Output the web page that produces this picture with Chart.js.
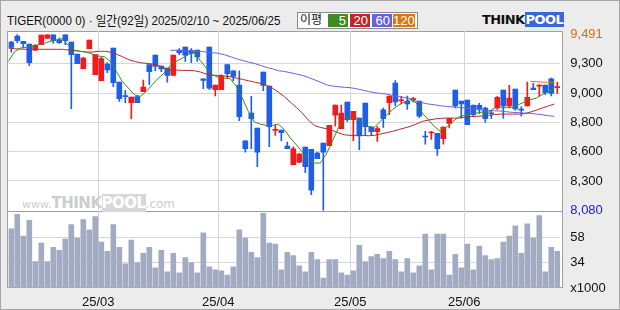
<!DOCTYPE html>
<html>
<head>
<meta charset="utf-8">
<script src="https://cdn.jsdelivr.net/npm/chart.js@4.4.1/dist/chart.umd.min.js"></script>
<style>
html, body { margin: 0; padding: 0; }
body { width: 620px; height: 310px; background: #ececec; position: relative; overflow: hidden;
       font-family: "Liberation Sans", "Noto Sans CJK KR", sans-serif; }
#outer { position: absolute; left: 0; top: 0; width: 620px; height: 310px; box-sizing: border-box; border: 1px solid #a6a6a6; }
#title { position: absolute; left: 7px; top: 13px; font-size: 13px; line-height: 16px; color: #111; white-space: nowrap;
         transform: scaleX(0.89); transform-origin: 0 0; }
#legend { position: absolute; left: 297px; top: 12px; width: 121px; height: 17px; box-sizing: border-box;
          border: 1px solid #8a8a8a; background: #fff; font-size: 12px; line-height: 13px; }
#legend span { position: absolute; top: 1px; height: 13px; color: #fff; text-align: right; padding-right: 2px; box-sizing: border-box; font-size: 13px; }
#logo { position: absolute; left: 482px; top: 12px; font-weight: bold; font-size: 13px; line-height: 16px; letter-spacing: -0.6px;
        font-family: "DejaVu Sans", sans-serif; color: #111; }
#logo .pool { background: #3a66dc; color: #fff; padding: 0 1px; }
#plotFrame { position: absolute; left: 7px; top: 31px; width: 556px; height: 257px; box-sizing: border-box; border: 1px solid #a0a0a0; background: #fff; }
#sep { position: absolute; left: 7px; top: 211px; width: 556px; height: 1px; background: #9c9c9c; }
#watermark { position: absolute; left: 22px; top: 195px; color: #cdcdcd; white-space: nowrap; font-family: "DejaVu Sans", sans-serif; line-height: 16px; }
#watermark .big { font-weight: bold; font-size: 15px; letter-spacing: -0.5px; }
#watermark .poolw { background: #d8d8d8; color: #fff; }
#chartBox { position: absolute; left: 0; top: 0; width: 620px; height: 310px; }
</style>
</head>
<body>
<div id="outer"></div>
<div id="title">TIGER(0000 0) · 일간(92일) 2025/02/10 ~ 2025/06/25</div>
<div id="legend">
  <span style="left:2px;color:#111;font-size:12px;">이평</span>
  <span style="left:30px;width:20px;background:#3d8c1f;">5</span>
  <span style="left:52px;width:20px;background:#c4262a;">20</span>
  <span style="left:74px;width:20px;background:#6a62da;">60</span>
  <span style="left:95px;width:22px;background:#dd760e;">120</span>
</div>
<div id="logo">THINK<span class="pool">POOL</span></div>
<div id="plotFrame"></div>
<div id="sep"></div>
<div id="watermark"><span style="font-size:11px">www.</span><span class="big">THINK</span><span class="big poolw">POOL</span><span style="font-size:12px">.com</span></div>
<div id="chartBox"><canvas id="candlePlot" width="620" height="310"></canvas></div>

<script>
// trading days, 2025/02/10 ~ 2025/06/25
var tradeDates = [
    '25/02/10','25/02/11','25/02/12','25/02/13','25/02/14','25/02/17','25/02/18','25/02/19','25/02/20','25/02/21',
    '25/02/24','25/02/25','25/02/26','25/02/27','25/02/28',
    '25/03/04','25/03/05','25/03/06','25/03/07','25/03/10','25/03/11','25/03/12','25/03/13','25/03/14','25/03/17',
    '25/03/18','25/03/19','25/03/20','25/03/21','25/03/24','25/03/25','25/03/26','25/03/27','25/03/28','25/03/31',
    '25/04/01','25/04/02','25/04/03','25/04/04','25/04/07','25/04/08','25/04/09','25/04/10','25/04/11','25/04/14',
    '25/04/15','25/04/16','25/04/17','25/04/18','25/04/21','25/04/22','25/04/23','25/04/24','25/04/25','25/04/28',
    '25/04/29','25/04/30',
    '25/05/02','25/05/07','25/05/08','25/05/09','25/05/12','25/05/13','25/05/14','25/05/15','25/05/16','25/05/19',
    '25/05/20','25/05/21','25/05/22','25/05/23','25/05/26','25/05/27','25/05/28','25/05/29','25/05/30',
    '25/06/02','25/06/04','25/06/05','25/06/09','25/06/10','25/06/11','25/06/12','25/06/13','25/06/16','25/06/17',
    '25/06/18','25/06/19','25/06/20','25/06/23','25/06/24','25/06/25'
];

var openPrices = [
    9431, 9479, 9436, 9415, 9366, 9409, 9460, 9489, 9447, 9489,
    9431, 9334, 9216, 9377, 9168, 9120, 9254, 9382, 9109, 9000,
    8943, 8992, 9032, 9249, 9326, 9238, 9222, 9163, 9366, 9390,
    9361, 9366, 9136, 9390, 9048, 9048, 9249, 9200, 9085, 8638,
    8860, 8740, 9190, 9077, 8721, 8724, 8595, 8445, 8467, 8587,
    8569, 8539, 8619, 8598, 8844, 8735, 8949, 8807, 8820, 8941,
    8748, 8710, 8887, 8943, 9101, 8959, 8954, 8967, 8957, 8673,
    8700, 8697, 8654, 8777, 9045, 8957, 8965, 8922, 8922, 8901,
    8860, 8901, 9045, 8917, 9053, 8890, 8917, 9061, 9077, 9085,
    9136, 9064
];
var highPrices = [
    9436, 9491, 9436, 9415, 9409, 9487, 9489, 9489, 9463, 9489,
    9431, 9334, 9307, 9447, 9329, 9307, 9265, 9382, 9109, 9040,
    8989, 8997, 9125, 9249, 9326, 9238, 9222, 9326, 9377, 9390,
    9377, 9366, 9136, 9390, 9085, 9168, 9249, 9200, 9200, 8638,
    8994, 8740, 9190, 9077, 8761, 8724, 8628, 8590, 8536, 8587,
    8569, 8547, 8619, 8761, 8925, 8925, 8949, 8874, 8820, 8941,
    8748, 8751, 8901, 8997, 9120, 8994, 8997, 8986, 8957, 8713,
    8713, 8697, 8748, 8818, 9045, 8957, 8965, 8927, 8938, 8906,
    8874, 8994, 9045, 9083, 9053, 8911, 9109, 9098, 9088, 9085,
    9141, 9109
];
var lowPrices = [
    9350, 9425, 9388, 9241, 9361, 9409, 9460, 9420, 9420, 9409,
    8895, 9257, 9216, 9377, 9168, 9120, 9184, 9072, 8954, 8943,
    8815, 8943, 9032, 9088, 9200, 9192, 9109, 9163, 9329, 9275,
    9265, 9275, 9056, 9050, 8997, 9048, 9141, 9120, 8799, 8547,
    8574, 8429, 9040, 8590, 8681, 8638, 8574, 8445, 8462, 8381,
    8205, 8494, 8080, 8598, 8756, 8735, 8793, 8638, 8566, 8681,
    8681, 8633, 8745, 8847, 8917, 8933, 8890, 8949, 8826, 8611,
    8649, 8520, 8611, 8740, 8901, 8820, 8767, 8836, 8858, 8788,
    8815, 8890, 8820, 8901, 8884, 8836, 8917, 9048, 8997, 9008,
    8997, 9018
];
var closePrices = [
    9388, 9441, 9417, 9265, 9404, 9487, 9489, 9441, 9425, 9441,
    9329, 9257, 9302, 9447, 9329, 9297, 9206, 9104, 8976, 8992,
    8989, 8943, 9069, 9192, 9235, 9214, 9163, 9326, 9345, 9324,
    9340, 9310, 9123, 9061, 9085, 9158, 9176, 9155, 8831, 8574,
    8815, 8547, 9083, 8751, 8727, 8702, 8574, 8574, 8531, 8429,
    8242, 8494, 8547, 8761, 8925, 8860, 8807, 8874, 8676, 8751,
    8710, 8735, 8815, 8997, 8949, 8967, 8933, 8976, 8836, 8668,
    8708, 8574, 8748, 8818, 8917, 8933, 8767, 8847, 8893, 8815,
    8855, 8986, 8917, 8981, 8893, 8884, 8986, 9048, 9083, 9024,
    9018, 9069
];

// volume, x1000
var volumes = [
    66.1, 79.7, 59.3, 74.2, 35.0, 52.5, 35.0, 48.6, 45.7, 56.4,
    70.0, 57.3, 74.8, 65.1, 77.7, 53.4, 44.7, 70.0, 48.6, 33.0,
    55.4, 34.0, 42.8, 48.6, 29.2, 45.7, 25.3, 42.8, 24.3, 38.9,
    34.0, 24.3, 62.2, 30.1, 27.2, 26.2, 22.3, 30.1, 65.1, 57.3,
    43.7, 38.9, 80.7, 52.5, 51.5, 27.2, 43.7, 40.8, 31.1, 25.3,
    43.7, 36.9, 19.4, 36.9, 36.9, 24.3, 22.3, 26.2, 50.5, 35.0,
    39.8, 41.8, 37.9, 44.7, 36.9, 25.3, 37.9, 24.3, 31.1, 61.2,
    27.2, 61.2, 61.2, 22.3, 41.8, 29.2, 51.5, 27.2, 49.6, 40.8,
    36.9, 37.9, 53.4, 59.3, 69.0, 42.8, 70.9, 57.3, 78.7, 25.3,
    48.6, 44.7
];

// moving averages as they appear on the chart
var ma5 = [
    9275, 9350, 9382, 9388, 9393, 9409, 9420, 9436, 9447, 9457,
    9404, 9366, 9356, 9350, 9334, 9318, 9313, 9275, 9195, 9115,
    9061, 9008, 8994, 9034, 9088, 9141, 9182, 9243, 9275, 9302,
    9329, 9350, 9281, 9222, 9168, 9147, 9141, 9136, 9075, 8981,
    8874, 8788, 8772, 8761, 8761, 8772, 8727, 8660, 8606, 8547,
    8486, 8459, 8459, 8531, 8633, 8740, 8807, 8826, 8826, 8780,
    8753, 8745, 8793, 8842, 8887, 8922, 8949, 8967, 8941, 8860,
    8807, 8753, 8713, 8745, 8788, 8826, 8842, 8852, 8860, 8868,
    8868, 8901, 8906, 8906, 8906, 8927, 8949, 8967, 8981, 9008,
    9034, 9050
];
var ma20 = [
    9382, 9377, 9374, 9372, 9372, 9372, 9372, 9372, 9372, 9372,
    9366, 9361, 9356, 9350, 9350, 9356, 9356, 9350, 9334, 9313,
    9291, 9275, 9265, 9259, 9254, 9243, 9222, 9206, 9206, 9203,
    9203, 9200, 9190, 9174, 9163, 9163, 9158, 9152, 9141, 9131,
    9120, 9109, 9099, 9083, 9061, 9029, 8992, 8949, 8906, 8860,
    8804, 8761, 8745, 8735, 8721, 8702, 8686, 8681, 8681, 8681,
    8678, 8681, 8692, 8702, 8713, 8727, 8740, 8753, 8772, 8793,
    8804, 8812, 8818, 8820, 8820, 8820, 8826, 8831, 8834, 8836,
    8842, 8847, 8852, 8852, 8852, 8852, 8855, 8868, 8884, 8901,
    8917, 8933
];
var ma60 = [
    null, null, null, null, null, null, null, null, null, null,
    null, null, null, null, null, null, null, null, null, null,
    null, null, null, null, null, null, null, 9364, 9364, 9361,
    9361, 9358, 9356, 9350, 9345, 9340, 9329, 9313, 9297, 9283,
    9270, 9259, 9243, 9227, 9216, 9200, 9195, 9184, 9174, 9163,
    9147, 9128, 9109, 9088, 9077, 9072, 9067, 9064, 9056, 9045,
    9034, 9024, 9018, 9013, 9002, 8992, 8986, 8976, 8954, 8943,
    8933, 8927, 8919, 8914, 8909, 8906, 8901, 8895, 8890, 8884,
    8882, 8879, 8876, 8871, 8866, 8863, 8860, 8858, 8852, 8847,
    8839, 8834
];
var ma120 = [
    null, null, null, null, null, null, null, null, null, null,
    null, null, null, null, null, null, null, null, null, null,
    null, null, null, null, null, null, null, null, null, null,
    null, null, null, null, null, null, null, null, null, null,
    null, null, null, null, null, null, null, null, null, null,
    null, null, null, null, null, null, null, null, null, null,
    null, null, null, null, null, null, null, null, null, null,
    null, null, null, null, null, null, null, null, null, null,
    null, null, null, null, null, null, null, 9115, 9112, 9109,
    9107, 9104
];

var priceTickValues = [8080, 8315, 8551, 8786, 9021, 9256, 9491];
var priceTickLabels = ['8,080', '8,300', '8,600', '8,800', '9,000', '9,300', '9,491'];
var volumeTickValues = [10, 34, 58];
var volumeTickLabels = ['x1000', '34', '58'];

var upColor = '#f01b1b';
var downColor = '#1f5fe6';

function _candleColor(ctx)
{
    var i = ctx.dataIndex;
    return closePrices[i] >= openPrices[i] ? upColor : downColor;
}

function _isMonthStart(index)
{
    if (index === undefined || index <= 0 || index >= tradeDates.length)
        return false;
    return tradeDates[index].slice(0, 5) != tradeDates[index - 1].slice(0, 5);
}

function _maLine(values, color)
{
    return {
        type: 'line',
        xAxisID: 'xl',
        yAxisID: 'y',
        data: values.map(function(v, i) { return {x: i, y: v}; }),
        borderColor: color,
        borderWidth: 1,
        pointRadius: 0,
        tension: 0,
        spanGaps: false,
        order: 0
    };
}

new Chart(document.getElementById('candlePlot'), {
    type: 'bar',
    data: {
        labels: tradeDates,
        datasets: [
            _maLine(ma5, '#3b8a1c'),
            _maLine(ma20, '#b8282a'),
            _maLine(ma60, '#6b5fe0'),
            _maLine(ma120, '#e0760c'),
            {
                // wicks
                data: lowPrices.map(function(l, i) { return [l, highPrices[i]]; }),
                backgroundColor: _candleColor,
                barThickness: 1,
                grouped: false,
                yAxisID: 'y',
                order: 2
            },
            {
                // bodies
                data: openPrices.map(function(o, i) {
                    return [Math.min(o, closePrices[i]), Math.max(o, closePrices[i])];
                }),
                backgroundColor: _candleColor,
                barThickness: 5,
                minBarLength: 1,
                grouped: false,
                yAxisID: 'y',
                order: 1
            },
            {
                data: volumes,
                backgroundColor: '#a3abc3',
                barThickness: 5,
                grouped: false,
                yAxisID: 'yv',
                order: 3
            }
        ]
    },
    options: {
        responsive: false,
        animation: false,
        events: [],
        layout: { padding: { left: 8.3, top: 31, right: 0, bottom: 0 } },
        plugins: { legend: { display: false }, tooltip: { enabled: false } },
        scales: {
            x: {
                type: 'category',
                offset: true,
                border: { display: false },
                grid: {
                    offset: true,
                    drawTicks: false,
                    lineWidth: 1,
                    color: function(ctx) { return _isMonthStart(ctx.index) ? '#d6d6d6' : 'rgba(0,0,0,0)'; }
                },
                ticks: {
                    autoSkip: false,
                    maxRotation: 0,
                    padding: 7,
                    labelOffset: -3,
                    color: '#111',
                    font: { family: 'Liberation Sans', size: 13 },
                    callback: function(value, index) {
                        return _isMonthStart(index) ? tradeDates[index].slice(0, 5) : '';
                    }
                },
                afterFit: function(scale) { scale.height = 22; }
            },
            xl: {
                type: 'linear',
                display: false,
                offset: false,
                grid: { offset: false },
                min: 0,
                max: 92
            },
            y: {
                type: 'linear',
                position: 'right',
                stack: 'panels',
                stackWeight: 181,
                min: 8066,
                max: 9519,
                border: { display: false },
                grid: {
                    drawTicks: false,
                    color: function(ctx) {
                        return (ctx.index > 0 && ctx.index < priceTickValues.length - 1) ? '#d6d6d6' : 'rgba(0,0,0,0)';
                    }
                },
                afterBuildTicks: function(scale) {
                    scale.ticks = priceTickValues.map(function(v) { return {value: v}; });
                },
                ticks: {
                    autoSkip: false,
                    padding: 10,
                    font: { family: 'Liberation Sans', size: 13 },
                    color: function(ctx) {
                        if (ctx.index == priceTickValues.length - 1) return '#d9700c';
                        if (ctx.index == 0) return '#1a1ad0';
                        return '#111';
                    },
                    callback: function(value, index) { return priceTickLabels[index]; }
                },
                afterFit: function(scale) { scale.width = 59.7; }
            },
            yv: {
                type: 'linear',
                position: 'right',
                stack: 'panels',
                stackWeight: 76,
                min: 10,
                max: 82,
                border: { display: false },
                grid: {
                    drawTicks: false,
                    color: function(ctx) { return ctx.index > 0 ? '#d6d6d6' : 'rgba(0,0,0,0)'; }
                },
                afterBuildTicks: function(scale) {
                    scale.ticks = volumeTickValues.map(function(v) { return {value: v}; });
                },
                ticks: {
                    autoSkip: false,
                    padding: 10,
                    font: { family: 'Liberation Sans', size: 13 },
                    color: '#111',
                    callback: function(value, index) { return volumeTickLabels[index]; }
                },
                afterFit: function(scale) { scale.width = 59.7; }
            }
        }
    }
});
</script>
</body>
</html>
